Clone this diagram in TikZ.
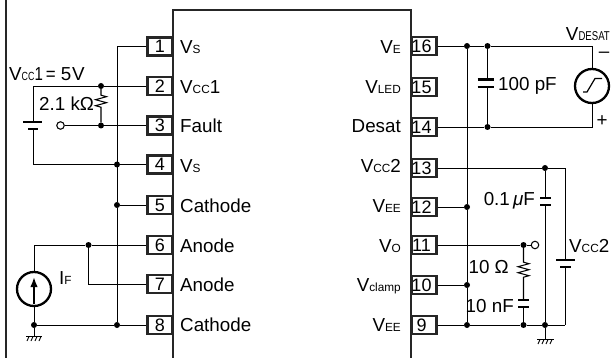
\documentclass[tikz,border=0pt]{standalone}
\usepackage{graphicx}
\usepackage{fontspec}
\setmainfont{Liberation Sans}
\usetikzlibrary{arrows.meta,decorations.pathmorphing}
\newcommand{\sm}[1]{{\fontsize{11.8}{12}\selectfont #1}}
\newcommand{\smt}[1]{\scalebox{0.75}[1]{\fontsize{12.8}{13}\selectfont #1}}
\tikzset{
  x=1pt,y=-1pt,
  wire/.style={line width=0.95pt,draw=black},
  bold/.style={line width=2.3pt,draw=black!85},
  plate/.style={line width=2.3pt,draw=black},
  pinbox/.style={draw=black!85,line width=2.3pt,fill=white,minimum width=25pt,minimum height=18pt,inner sep=0pt,font=\fontsize{18}{18}\selectfont},
  lbl/.style={inner sep=0pt,font=\fontsize{18.8}{20}\selectfont,text=black},
  dot/.style={circle,fill=black,inner sep=0pt,minimum size=6pt},
  opendot/.style={circle,draw=black,fill=white,line width=1.05pt,inner sep=0pt,minimum size=7.5pt},
  src/.style={circle,draw=black,line width=2.3pt,inner sep=0pt,minimum size=34pt},
  res/.style n args={2}{wire,line width=1.05pt,decoration={zigzag,segment length=6pt,amplitude=5.5pt,pre length=#1,post length=#2},decorate},
}
\begin{document}
\begin{tikzpicture}
\useasboundingbox (0,0) rectangle (615,358);
% frame and package
\draw[bold] (6,0) -- (6,358);
\draw[bold] (173,358) -- (173,10) -- (411,10) -- (411,358);
% junctions
\node[dot] (a2) at (101,86) {};
\node[dot] (a3) at (101,125.5) {};
\node[dot] (b4) at (117,164.5) {};
\node[dot] (b5) at (117,205) {};
\node[dot] (a6) at (88.5,245) {};
\node[dot] (b8) at (117,325) {};
\node[dot] (g1) at (34,325) {};
\node[opendot] (o1) at (60.5,125.5) {};
\node[dot] (r16) at (467,46) {};
\node[dot] (c16) at (487.5,46) {};
\node[dot] (c14) at (487.5,127) {};
\node[dot] (d13) at (545,168) {};
\node[dot] (r12) at (467,207) {};
\node[dot] (e11) at (523.5,245) {};
\node[opendot] (o2) at (535,245) {};
\node[dot] (r10) at (467,285) {};
\node[dot] (r9) at (467,325) {};
\node[dot] (e9) at (523.5,325) {};
\node[dot] (d9) at (545,325) {};
\coordinate (bt1) at (117,46.5);
\coordinate (l1) at (33,86);
\coordinate (l4) at (33,164.5);
\coordinate (l6) at (34,245);
\coordinate (s1) at (592,46);
\coordinate (s2) at (592,127);
\coordinate (q13) at (565,168);
\coordinate (q9) at (565,325);
\coordinate (k7) at (88.5,284);
% pins
\foreach \n/\y in {1/46.5,2/86,3/125.5,4/164.5,5/205,6/245,7/284,8/325}
  \node[pinbox] (p\n) at (160,\y) {\n};
\foreach \n/\y in {16/46,15/87,14/127,13/168,12/207,11/245,10/285,9/325}
  \node[pinbox] (p\n) at (424,\y) {\hspace*{-5pt}\n};
% sources
\node[src] (if) at (34,289) {};
\node[src] (vd) at (592,86) {};
% left wiring
\draw[wire] (p1.west) -- (bt1) -- (b5) -- (b8);
\draw[wire] (b4) -- (p4.west);
\draw[wire] (b5) -- (p5.west);
\draw[wire] (g1) -- (b8) -- (p8.west);
\draw[wire] (a2) -- (p2.west);
\draw[wire] (a3) -- (p3.west);
\draw[wire] (o1) -- (a3);
\draw[res={6pt}{15pt}] (a2) -- (a3);
\draw[wire] (a2) -- (l1) -- (33,122);
\draw[wire] (33,129) -- (l4) -- (b4);
\draw[plate] (23,122) -- (42,122);
\draw[plate] (28,129) -- (38,129);
\draw[wire] (if) -- (l6) -- (a6) -- (p6.west);
\draw[wire] (a6) -- (k7) -- (p7.west);
\draw[wire] (if.south) -- (g1);
\draw[line width=1.7pt,-{Latex[length=10pt,width=7.5pt]}] (34,304) -- (34,277);
\draw[wire] (g1) -- (34,336);
\draw[wire] (26,336) -- (42,336);
\foreach \x in {29,33,37,41}
  \draw[line width=0.9pt] (\x,336.5) -- (\x-2,341);
% right wiring
\draw[wire] (p16.east) -- (r16) -- (c16) -- (s1) -- (vd.north);
\draw[wire] (p14.east) -- (c14) -- (s2) -- (vd.south);
\draw[wire] (r16) -- (r12) -- (r10) -- (r9);
\draw[wire] (c16) -- (487.5,79);
\draw[wire] (487.5,87) -- (c14);
\draw[plate] (477.5,79.5) -- (494,79.5);
\draw[plate] (477.5,87) -- (494,87);
\draw[wire] (p12.east) -- (r12);
\draw[wire] (p10.east) -- (r10);
\draw[wire] (p9.east) -- (r9) -- (e9) -- (d9) -- (q9);
\draw[wire] (p13.east) -- (d13) -- (q13) -- (565,260);
\draw[wire] (565,267) -- (q9);
\draw[plate] (556,260) -- (575,260);
\draw[plate] (560,267) -- (571,267);
\draw[wire] (d13) -- (545,198);
\draw[wire] (545,205) -- (d9);
\draw[plate] (540,198) -- (551,198);
\draw[plate] (540,205) -- (551,205);
\draw[wire] (p11.east) -- (e11) -- (o2);
\draw[res={14pt}{22pt}] (e11) -- (523.5,300);
\draw[wire] (523.5,307) -- (e9);
\draw[plate] (518,300) -- (529,300);
\draw[plate] (518,307) -- (529,307);
\draw[wire] (d9) -- (545,339);
\draw[wire] (537,339) -- (554,339);
\foreach \x in {540,544,548,552}
  \draw[line width=0.9pt] (\x,339.5) -- (\x-2,344);
\draw[line width=1.2pt] (583,92) -- (587,92) -- (595,78.5) -- (602,78.5);
% labels left
\node[lbl,anchor=base west] at (180,54) {V\sm{S}};
\node[lbl,anchor=base west] at (180,94) {V\sm{CC}1};
\node[lbl,anchor=base west] at (180,133) {Fault};
\node[lbl,anchor=base west] at (180,172) {V\sm{S}};
\node[lbl,anchor=base west] at (180,212) {Cathode};
\node[lbl,anchor=base west] at (180,252) {Anode};
\node[lbl,anchor=base west] at (180,291) {Anode};
\node[lbl,anchor=base west] at (180,331) {Cathode};
% labels right
\node[lbl,anchor=base east] at (401,54) {V\sm{E}};
\node[lbl,anchor=base east] at (401,94) {V\sm{LED}};
\node[lbl,anchor=base east] at (401,133) {Desat};
\node[lbl,anchor=base east] at (401,172) {V\sm{CC}2};
\node[lbl,anchor=base east] at (401,212) {V\sm{EE}};
\node[lbl,anchor=base east] at (401,252) {V\sm{O}};
\node[lbl,anchor=base east] at (401,291) {V\sm{clamp}};
\node[lbl,anchor=base east] at (401,331) {V\sm{EE}};
% other labels
\node[lbl,anchor=base west] at (9,81) {V\scalebox{0.75}[1]{\sm{CC}}\scalebox{0.8}[1]{1}\kern3pt\scalebox{0.9}[1]{=}\kern5pt5\kern1pt V};
\node[lbl,anchor=base west] at (39,111) {2.1 kΩ};
\node[lbl,anchor=base west] at (59,284) {I\sm{F}};
\node[lbl,anchor=base west] at (498,91) {100 pF};
\node[lbl,anchor=base east] at (610,41) {V\smt{DESAT}};
\node[lbl,anchor=base] at (604,58) {–};
\node[lbl,anchor=base] at (602,127) {+};
\node[lbl,anchor=base east] at (535,205) {0.1\,\textit{μ}F};
\node[lbl,anchor=base east] at (509,273) {10 Ω};
\node[lbl,anchor=base east] at (514,312) {10 nF};
\node[lbl,anchor=base west] at (569,252) {V\sm{CC}2};
\end{tikzpicture}
\end{document}
